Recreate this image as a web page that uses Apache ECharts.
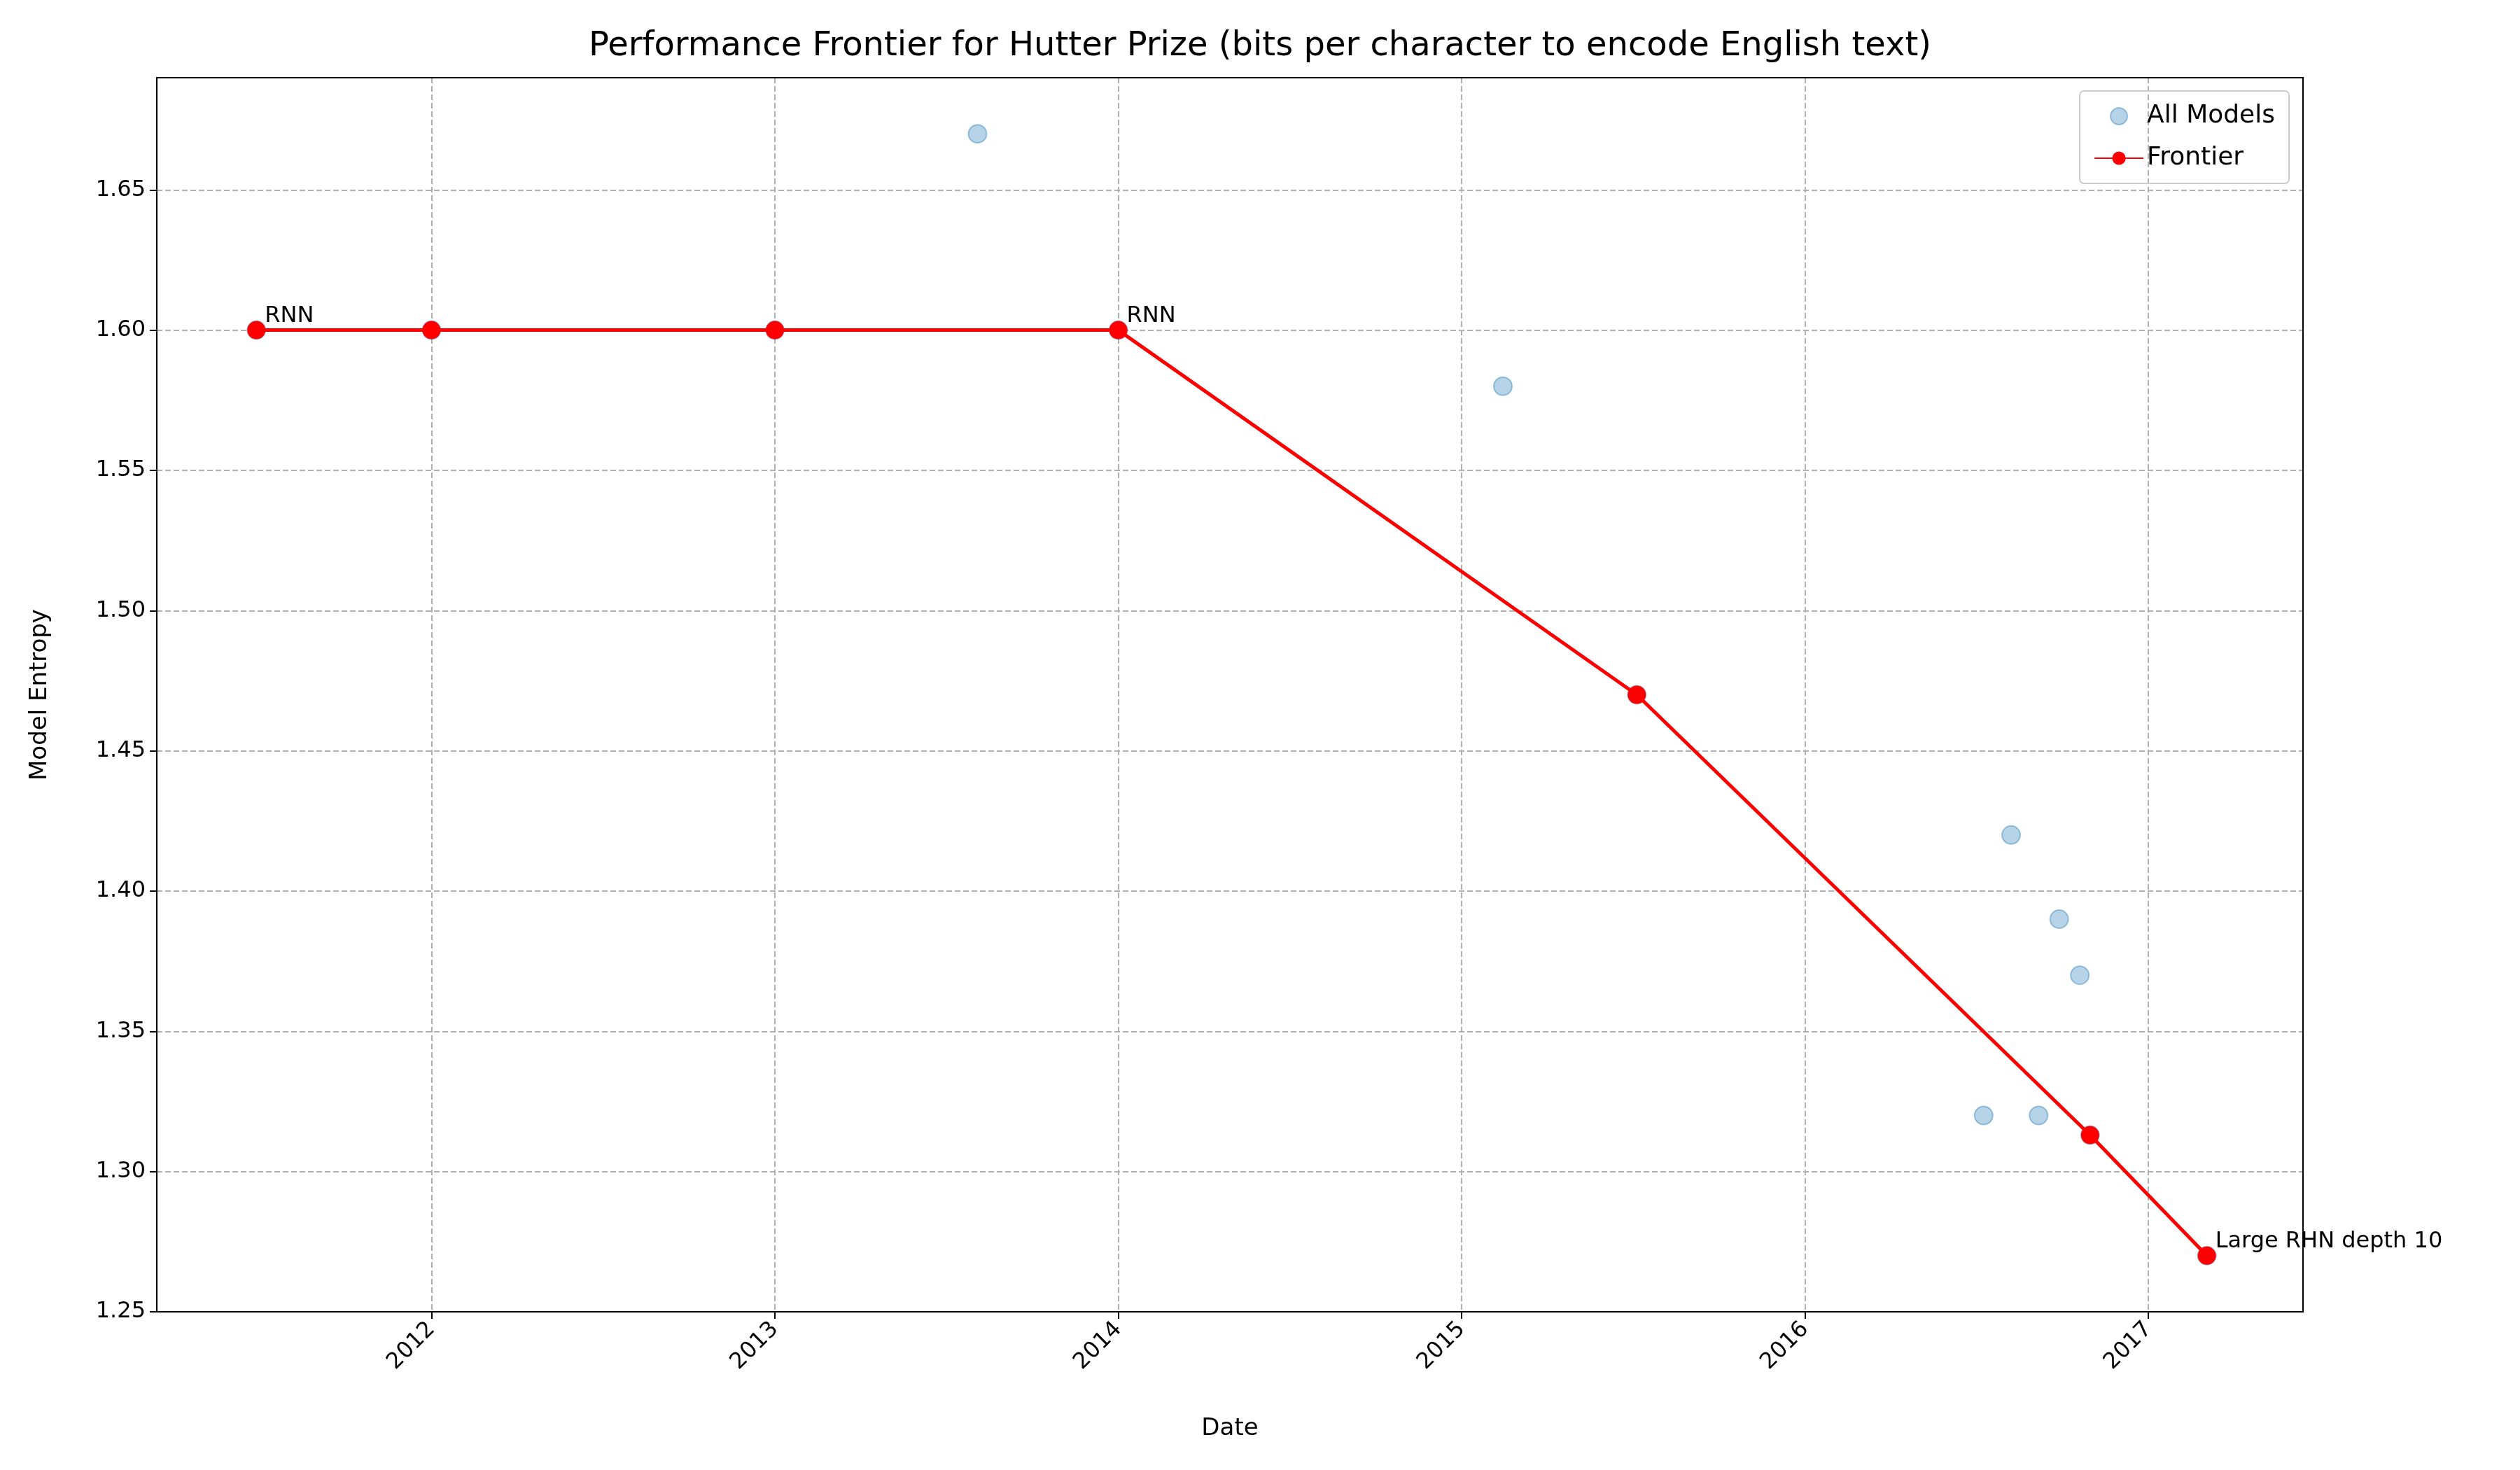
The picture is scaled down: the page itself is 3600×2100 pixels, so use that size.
<!DOCTYPE html>
<html><head><meta charset="utf-8">
<script src="https://cdn.jsdelivr.net/npm/echarts@6/dist/echarts.min.js"></script>
<style>html,body{margin:0;background:#fff}#c{width:3600px;height:2100px}</style>
</head><body><div id="c"></div>
<script>
// decimal years
const allYears = [2011.49, 2012.0, 2013.0, 2013.59, 2014.0, 2015.12, 2015.51, 2016.52, 2016.60, 2016.68, 2016.74, 2016.80, 2016.83, 2017.17];
const allVals  = [1.60, 1.60, 1.60, 1.67, 1.60, 1.58, 1.47, 1.32, 1.42, 1.32, 1.39, 1.37, 1.313, 1.27];
const frontYears = [2011.49, 2012.0, 2013.0, 2014.0, 2015.51, 2016.83, 2017.17];
const frontVals  = [1.60, 1.60, 1.60, 1.60, 1.47, 1.313, 1.27];
const frontLabels = ['RNN', '', '', 'RNN', '', '', 'Large RHN depth 10'];
const xTicks = [2012, 2013, 2014, 2015, 2016, 2017];
const yTicks = [1.25, 1.30, 1.35, 1.40, 1.45, 1.50, 1.55, 1.60, 1.65];

const font = 'DejaVu Sans';
const chart = echarts.init(document.getElementById('c'));
chart.setOption({
  animation: false,
  textStyle: {fontFamily: font},
  title: {text: 'Performance Frontier for Hutter Prize (bits per character to encode English text)',
    left: 'center', top: 38, textStyle: {fontSize: 48, fontWeight: 'normal', color: '#000', fontFamily: font}},
  legend: {right: 330, top: 130, orient: 'vertical', itemGap: 24, itemWidth: 70, itemHeight: 24,
    borderColor: '#ccc', borderWidth: 2, borderRadius: 6, padding: [18, 20],
    textStyle: {fontSize: 36, color: '#000'},
    data: [{name: 'All Models', icon: 'circle'}, {name: 'Frontier'}]},
  grid: {left: 224, right: 310, top: 111, bottom: 226},
  xAxis: [{type: 'value', min: 2011.2, max: 2017.45, name: 'Date', nameLocation: 'middle', nameGap: 150,
    nameTextStyle: {fontSize: 34, color: '#000'},
    axisLine: {lineStyle: {color: '#000', width: 2}},
    axisTick: {customValues: xTicks, length: 10, lineStyle: {color: '#000', width: 2}},
    axisLabel: {customValues: xTicks, rotate: 45, fontSize: 32, color: '#000', margin: 20, formatter: v => String(Math.round(v))},
    splitLine: {show: true, lineStyle: {type: 'dashed', color: '#b0b0b0', width: 2}}},
    {type: 'value', position: 'top', min: 2011.2, max: 2017.45, axisLine: {show: true, lineStyle: {color: '#000', width: 2}},
     axisTick: {show: false}, axisLabel: {show: false}, splitLine: {show: false}}],
  yAxis: [{type: 'value', min: 1.25, max: 1.69, name: 'Model Entropy', nameLocation: 'middle', nameGap: 150,
    nameTextStyle: {fontSize: 34, color: '#000'},
    axisLine: {show: true, lineStyle: {color: '#000', width: 2}},
    axisTick: {show: true, customValues: yTicks, length: 10, lineStyle: {color: '#000', width: 2}},
    axisLabel: {customValues: yTicks, fontSize: 32, color: '#000', margin: 16, formatter: v => v.toFixed(2)},
    splitLine: {show: true, lineStyle: {type: 'dashed', color: '#b0b0b0', width: 2}}},
    {type: 'value', position: 'right', min: 1.25, max: 1.69, axisLine: {show: true, lineStyle: {color: '#000', width: 2}},
     axisTick: {show: false}, axisLabel: {show: false}, splitLine: {show: false}}],
  series: [
    {name: 'All Models', type: 'scatter', symbolSize: 26,
      itemStyle: {color: 'rgba(31,119,180,0.4)', borderColor: 'rgba(31,119,180,0.5)', borderWidth: 2},
      data: allYears.map((x, i) => [x, allVals[i]])},
    {name: 'Frontier', type: 'line', symbol: 'circle', symbolSize: 26,
      lineStyle: {color: '#ff0000', width: 5}, itemStyle: {color: '#ff0000'},
      data: frontYears.map((x, i) => ({value: [x, frontVals[i]],
        label: {show: !!frontLabels[i], formatter: frontLabels[i], position: 'right', offset: [-6, -20],
          fontSize: 32, color: '#000'}}))}
  ]
});
</script></body></html>
